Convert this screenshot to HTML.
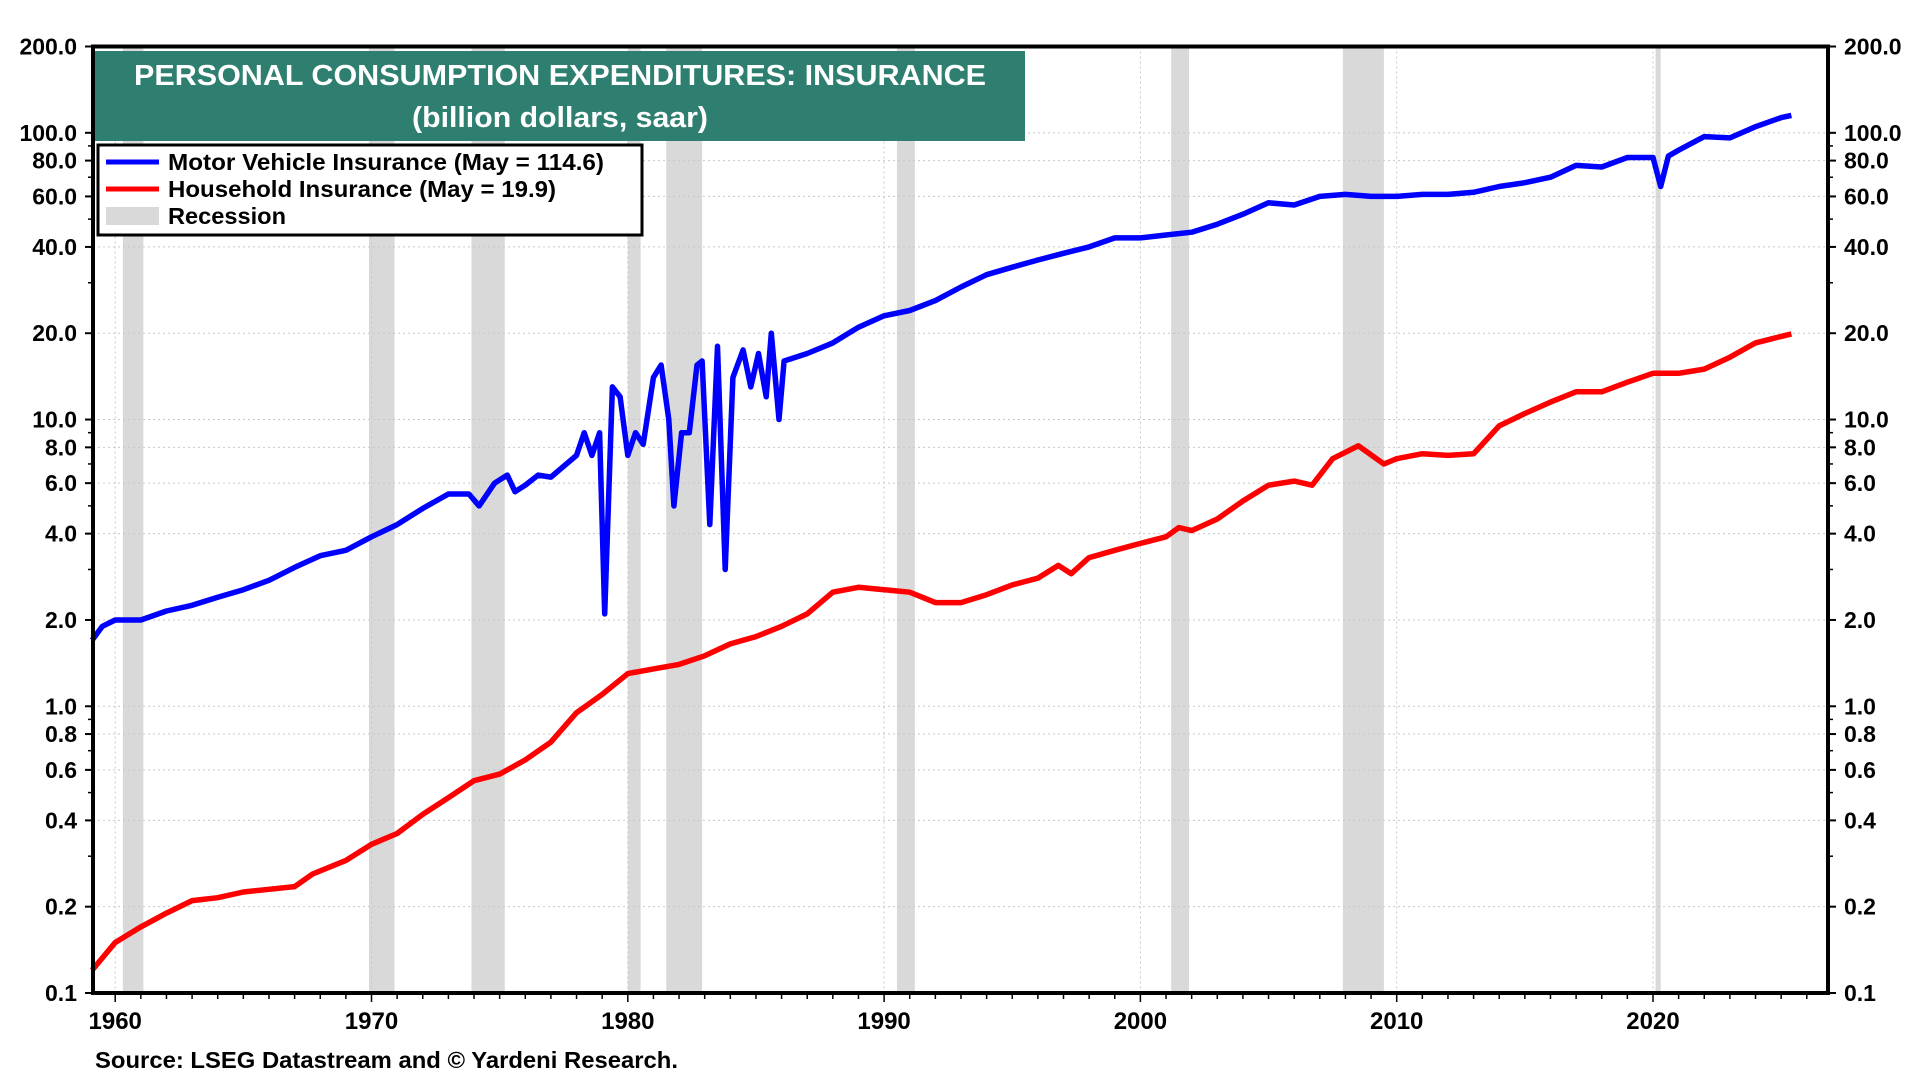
<!DOCTYPE html>
<html><head><meta charset="utf-8"><style>
html,body{margin:0;padding:0;background:#fff;}
svg{display:block;font-family:"Liberation Sans",Arial,sans-serif;}
</style></head><body>
<svg id="chart" width="1920" height="1080" viewBox="0 0 1920 1080">
<g id="rec"></g>
<g id="grid"></g>
<g id="series"></g>
<g id="axes"></g>
<rect x="95" y="51" width="930" height="90" fill="#2e7f70"/>
<text x="560" y="85" text-anchor="middle" fill="#fff" font-weight="bold" font-size="29" textLength="852" lengthAdjust="spacingAndGlyphs">PERSONAL CONSUMPTION EXPENDITURES: INSURANCE</text>
<text x="560" y="127" text-anchor="middle" fill="#fff" font-weight="bold" font-size="29" textLength="296" lengthAdjust="spacingAndGlyphs">(billion dollars, saar)</text>
<g>
<rect x="98" y="145" width="544" height="90" fill="#fff" stroke="#000" stroke-width="3"/>
<line x1="106" y1="162" x2="159" y2="162" stroke="#0000ff" stroke-width="5"/>
<text x="168" y="170" font-size="23" font-weight="bold" textLength="436" lengthAdjust="spacingAndGlyphs">Motor Vehicle Insurance (May = 114.6)</text>
<line x1="106" y1="189" x2="159" y2="189" stroke="#ff0000" stroke-width="5"/>
<text x="168" y="197" font-size="23" font-weight="bold" textLength="388" lengthAdjust="spacingAndGlyphs">Household Insurance (May = 19.9)</text>
<rect x="106" y="207" width="53" height="18" fill="#d9d9d9"/>
<text x="168" y="224" font-size="23" font-weight="bold" textLength="118" lengthAdjust="spacingAndGlyphs">Recession</text>
</g>
<text x="95" y="1068" font-size="23" font-weight="bold" textLength="583" lengthAdjust="spacingAndGlyphs">Source: LSEG Datastream and © Yardeni Research.</text>
</svg>
<script>
const motorT=[1959.1,1959.5,1960,1961,1962,1963,1964,1965,1966,1967,1968,1969,1970,1971,1972,1973,1973.8,1974.2,1974.8,1975.3,1975.6,1976,1976.5,1977,1978,1978.3,1978.6,1978.9,1979.1,1979.4,1979.7,1980,1980.3,1980.6,1981,1981.3,1981.6,1981.8,1982.1,1982.4,1982.7,1982.9,1983.2,1983.5,1983.8,1984.1,1984.5,1984.8,1985.1,1985.4,1985.6,1985.9,1986.1,1987,1988,1989,1990,1991,1992,1993,1994,1995,1996,1997,1998,1999,2000,2001,2002,2003,2004,2005,2006,2007,2008,2009,2010,2011,2012,2013,2014,2015,2016,2017,2018,2019,2020.0,2020.3,2020.6,2021,2022,2023,2024,2025,2025.4];
const motorV=[1.7,1.9,2.0,2.0,2.15,2.25,2.4,2.55,2.75,3.05,3.35,3.5,3.9,4.3,4.9,5.5,5.5,5.0,6.0,6.4,5.6,5.9,6.4,6.3,7.5,9,7.5,9,2.1,13,12,7.5,9,8.2,14,15.5,10,5,9,9,15.5,16,4.3,18,3,14,17.5,13,17,12,20,10,16,17,18.5,21,23,24,26,29,32,34,36,38,40,43,43,44,45,48,52,57,56,60,61,60,60,61,61,62,65,67,70,77,76,82,82,65,83,87,97,96,105,113,115];
const houseT=[1959.1,1960,1961,1962,1963,1964,1965,1966,1967,1967.7,1969,1970,1971,1972,1973,1974,1975,1976,1977,1978,1979,1980,1981,1982,1983,1984,1985,1986,1987,1988,1989,1990,1991,1992,1993,1994,1995,1996,1996.8,1997.3,1998,1999,2000,2001,2001.5,2002,2003,2004,2005,2006,2006.7,2007.5,2008.5,2009.5,2010,2011,2012,2013,2014,2015,2016,2017,2018,2019,2020,2021,2022,2023,2024,2025,2025.4];
const houseV=[0.12,0.15,0.17,0.19,0.21,0.215,0.225,0.23,0.235,0.26,0.29,0.33,0.36,0.42,0.48,0.55,0.58,0.65,0.75,0.95,1.1,1.3,1.35,1.4,1.5,1.65,1.75,1.9,2.1,2.5,2.6,2.55,2.5,2.3,2.3,2.45,2.65,2.8,3.1,2.9,3.3,3.5,3.7,3.9,4.2,4.1,4.5,5.2,5.9,6.1,5.9,7.3,8.1,7.0,7.3,7.6,7.5,7.6,9.5,10.5,11.5,12.5,12.5,13.5,14.5,14.5,15,16.5,18.5,19.5,19.9];
const recStart=[1960.3,1969.9,1973.9,1980.0,1981.5,1990.5,2001.2,2007.9,2020.1];
const recEnd=[1961.1,1970.9,1975.2,1980.5,1982.9,1991.2,2001.9,2009.5,2020.3];
const yTickVals=[0.1,0.2,0.4,0.6,0.8,1,2,4,6,8,10,20,40,60,80,100,200];
const yTickLabels=["0.1","0.2","0.4","0.6","0.8","1.0","2.0","4.0","6.0","8.0","10.0","20.0","40.0","60.0","80.0","100.0","200.0"];
const xTickYears=[1960,1970,1980,1990,2000,2010,2020];

const L=93,R=1828,T=46.5,B=993;
const x=t=>1653+(t-2020)*25.63;
const y=v=>T+(B-T)*(Math.log10(200)-Math.log10(v))/(Math.log10(200)-Math.log10(0.1));
const NS="http://www.w3.org/2000/svg";
function mk(tag,parent,attrs){const e=document.createElementNS(NS,tag);for(const k in attrs)e.setAttribute(k,attrs[k]);parent.appendChild(e);return e;}
const rec=document.getElementById('rec'),grid=document.getElementById('grid'),ser=document.getElementById('series'),ax=document.getElementById('axes');
for(let i=0;i<recStart.length;i++){
 const r=mk('rect',rec,{x:x(recStart[i]),y:T,width:Math.max(4,x(recEnd[i])-x(recStart[i])),height:B-T,fill:'#d9d9d9'});
 
 
}
yTickVals.forEach((v,i)=>{
 const g=mk('line',grid,{x1:L,x2:R,y1:y(v),y2:y(v),stroke:'#c8c8c8','stroke-width':1,'stroke-dasharray':'2,3'});
 
 
 const t1=mk('text',ax,{x:77,y:y(v)+8,'text-anchor':'end','font-size':23,'font-weight':'bold'});t1.textContent=yTickLabels[i];
 
 
 const t2=mk('text',ax,{x:1844,y:y(v)+8,'font-size':23,'font-weight':'bold'});t2.textContent=yTickLabels[i];
 
 
 mk('line',ax,{x1:L-8,x2:L,y1:y(v),y2:y(v),stroke:'#000','stroke-width':2});
 mk('line',ax,{x1:R,x2:R+8,y1:y(v),y2:y(v),stroke:'#000','stroke-width':2});
});
for(let d=0.1;d<200;d*=10){for(let m=1;m<10;m++){const v=d*m;if(v>=0.1&&v<=200){mk('line',ax,{x1:L-5,x2:L,y1:y(v),y2:y(v),stroke:'#000','stroke-width':1.5});mk('line',ax,{x1:R,x2:R+5,y1:y(v),y2:y(v),stroke:'#000','stroke-width':1.5});}}}
xTickYears.forEach(yr=>{
 const g=mk('line',grid,{x1:x(yr),x2:x(yr),y1:T,y2:B,stroke:'#c8c8c8','stroke-width':1,'stroke-dasharray':'2,3'});
 
 
 const t=mk('text',ax,{x:x(yr),y:1029,'text-anchor':'middle','font-size':24,'font-weight':'bold'});t.textContent=yr;
 
 
});
for(let yr=1960;yr<=2026;yr++){mk('line',ax,{x1:x(yr),x2:x(yr),y1:B,y2:B+(yr%10?6:9),stroke:'#000','stroke-width':1.5});}
function line(ts,vs,col,name){
 const p=mk('polyline',ser,{points:ts.map((t,i)=>x(t).toFixed(1)+','+y(vs[i]).toFixed(1)).join(' '),fill:'none',stroke:col,'stroke-width':5.5,'stroke-linejoin':'round'});
 
 
}
line(houseT,houseV,'#ff0000','household-insurance-line');
line(motorT,motorV,'#0000ff','motor-vehicle-insurance-line');
const fr=mk('rect',ax,{x:L,y:T,width:R-L,height:B-T,fill:'none',stroke:'#000','stroke-width':4});


</script>
</body></html>
